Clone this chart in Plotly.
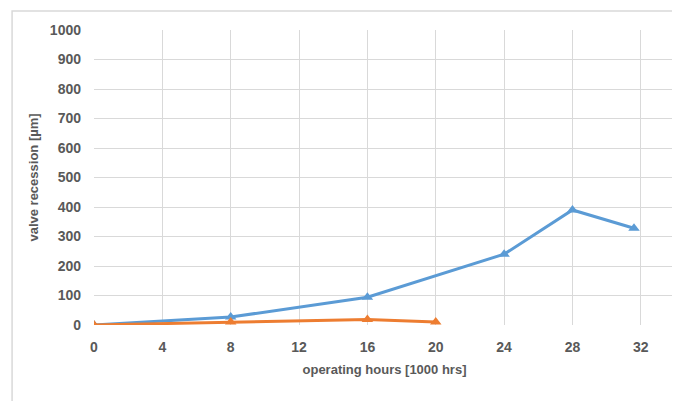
import plotly.graph_objects as go

blue_x = [0, 8, 16, 24, 28, 31.6]
blue_y = [0, 27, 94, 240, 390, 328]
orange_x = [0, 8, 16, 20]
orange_y = [0, 10, 19, 10]
x_ticks = [0, 4, 8, 12, 16, 20, 24, 28, 32]
y_ticks = list(range(0, 1001, 100))

fig = go.Figure()
fig.add_trace(go.Scatter(x=blue_x, y=blue_y, mode="lines+markers",
                         line=dict(color="#5B9BD5", width=3),
                         marker=dict(symbol="triangle-up", size=10, color="#5B9BD5"),
                         showlegend=False))
fig.add_trace(go.Scatter(x=orange_x, y=orange_y, mode="lines+markers",
                         line=dict(color="#ED7D31", width=3),
                         marker=dict(symbol="triangle-up", size=10, color="#ED7D31"),
                         showlegend=False))

font_fam = "Liberation Sans, Arial, sans-serif"
tf = dict(size=14, color="#595959", family=font_fam, weight="bold")
fig.update_layout(
    width=672, height=393,
    margin=dict(l=86, r=5, t=22, b=76, autoexpand=False),
    paper_bgcolor="white", plot_bgcolor="white",
    font=dict(family=font_fam, color="#595959", size=13),
    xaxis=dict(range=[0, 34], tickvals=x_ticks, showgrid=True, gridcolor="#d9d9d9",
               gridwidth=1, zeroline=False, showline=False, ticks="",
               tickfont=tf, ticklabelstandoff=12,
               title=dict(text="operating hours [1000 hrs]",
                          font=dict(size=13, color="#595959", weight="bold"),
                          standoff=10)),
    yaxis=dict(range=[0, 1000], tickvals=y_ticks, showgrid=True, gridcolor="#d9d9d9",
               gridwidth=1, zeroline=False, showline=False, ticks="",
               tickfont=tf, ticklabelstandoff=12,
               title=dict(text="valve recession [µm]",
                          font=dict(size=13, color="#595959", weight="bold"),
                          standoff=8)),
    shapes=[dict(type="rect", xref="paper", yref="paper", x0=-0.141, x1=1.1, y0=-0.35, y1=1.064,
                 line=dict(color="#d9d9d9", width=1.5), fillcolor="rgba(0,0,0,0)", layer="below")],
)

fig.write_html("out.html")
